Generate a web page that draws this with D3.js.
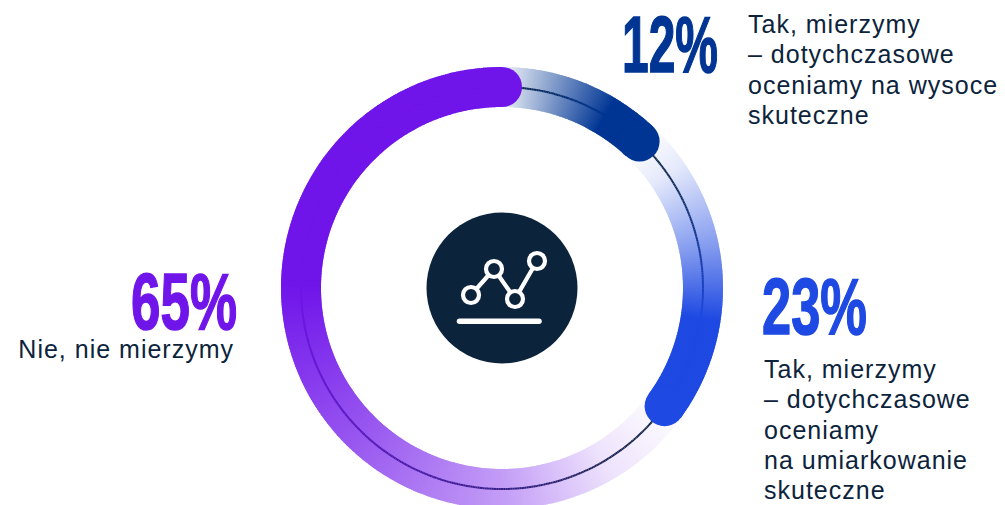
<!DOCTYPE html>
<html lang="pl">
<head>
<meta charset="utf-8">
<script src="https://cdn.jsdelivr.net/npm/d3@7"></script>
<style>
html,body{margin:0;padding:0;background:#fff;overflow:hidden}
svg{display:block}
.big{font-family:"Liberation Sans Narrow","Liberation Sans",sans-serif;font-weight:700;font-size:80px;stroke-width:1.5px;paint-order:stroke}
.note{font-family:"Liberation Sans",sans-serif;font-size:25px;fill:#0c233c;letter-spacing:1px}
</style>
</head>
<body>
<svg id="chart" width="1005" height="505"></svg>
<script>
// Shares of respondents, clockwise from twelve o'clock
const shares = [12, 23, 65];
const shareColors = ["#003594", "#1e49e2", "#7015ea"];
// Opacity ramp of each band along its own sweep
const rampPositions = [[0, 0.72, 1], [0, 0.15, 0.43, 0.67, 1], [0, 0.1, 0.23, 0.42, 0.62, 1]];
const rampOpacities = [[0.06, 1, 1], [0, 0.12, 0.55, 1, 1], [0.01, 0.12, 0.42, 0.72, 1, 1]];

const bigLabels = ["12%", "23%", "65%"];
const noteLines = [
  ["Tak, mierzymy", "– dotychczasowe", "oceniamy na wysoce", "skuteczne"],
  ["Tak, mierzymy", "– dotychczasowe", "oceniamy", "na umiarkowanie", "skuteczne"],
  ["Nie, nie mierzymy"]
];

const cx = 502, cy = 288, outerR = 221, innerR = 181, lineR = 201;
const ink = "#0c233c";
const svg = d3.select("#chart");
const ring = svg.append("g").attr("transform", `translate(${cx},${cy})`);

const pie = d3.pie().sort(null).value(d => d);
const slices = pie(shares);
const band = d3.arc().innerRadius(innerR).outerRadius(outerR);
const thread = d3.arc().innerRadius(lineR - 1).outerRadius(lineR + 1);
const STEP = Math.PI / 360;

slices.forEach((s, i) => {
  const alpha = d3.scaleLinear().domain(rampPositions[i]).range(rampOpacities[i]);
  const toColor = d3.interpolateRgb("#ffffff", shareColors[i]);
  const toThread = d3.interpolateRgb(ink, shareColors[i]);
  const count = Math.ceil((s.endAngle - s.startAngle) / STEP);
  const sweep = d3.scaleLinear().domain([0, count]).range([s.startAngle, s.endAngle]);
  d3.range(count).forEach(k => {
    const a = alpha((k + 0.5) / count);
    const span = { startAngle: sweep(k), endAngle: Math.min(sweep(k + 1) + 0.006, s.endAngle) };
    ring.append("path").attr("d", band(span)).attr("fill", toColor(a));
    ring.append("path").attr("d", thread(span)).attr("fill", toThread(a));
  });
});

// Round caps sit above every band
const mid = (innerR + outerR) / 2;
slices.forEach((s, i) => {
  const p = d3.arc().innerRadius(mid).outerRadius(mid).centroid({ startAngle: s.endAngle, endAngle: s.endAngle });
  ring.append("circle").attr("cx", p[0]).attr("cy", p[1]).attr("r", (outerR - innerR) / 2).attr("fill", shareColors[i]);
});

// Centre badge with a small line-chart pictogram
ring.append("circle").attr("r", 75.5).attr("fill", ink);
const iconPoints = [[-31, 7], [-8, -19], [13, 11], [35, -27]];
const icon = ring.append("g").attr("fill", "none").attr("stroke", "#fff").attr("stroke-width", 4.2).attr("stroke-linecap", "round");
icon.append("path").attr("d", d3.line()(iconPoints));
icon.selectAll("circle").data(iconPoints).join("circle")
  .attr("cx", d => d[0]).attr("cy", d => d[1]).attr("r", 8).attr("fill", ink);
icon.append("line").attr("x1", -42.5).attr("x2", 37).attr("y1", 33.3).attr("y2", 33.3).attr("stroke-width", 5.5);

// Headline percentages, squeezed horizontally to a condensed width
const bigSpec = [
  { x: 622, y: 71.5, w: 96 },
  { x: 762, y: 334, w: 105 },
  { x: 131, y: 329, w: 106 }
];
svg.selectAll("text.big").data(bigLabels).join("text").attr("class", "big")
  .attr("fill", (d, i) => shareColors[i]).attr("stroke", (d, i) => shareColors[i]).text(d => d)
  .attr("transform", function (d, i) {
    const sx = bigSpec[i].w / this.getComputedTextLength();
    return `translate(${bigSpec[i].x},${bigSpec[i].y}) scale(${sx},1)`;
  });

// Descriptions beneath or beside each percentage, one element per line
const noteSpec = [
  { x: 748, y: 33, anchor: "start" },
  { x: 764, y: 378, anchor: "start" },
  { x: 234, y: 358, anchor: "end" }
];
noteLines.forEach((lines, i) => {
  lines.forEach((l, j) => {
    svg.append("text").attr("class", "note").attr("text-anchor", noteSpec[i].anchor)
      .attr("x", noteSpec[i].x).attr("y", noteSpec[i].y + j * 30.3).text(l);
  });
});
</script>
</body>
</html>
